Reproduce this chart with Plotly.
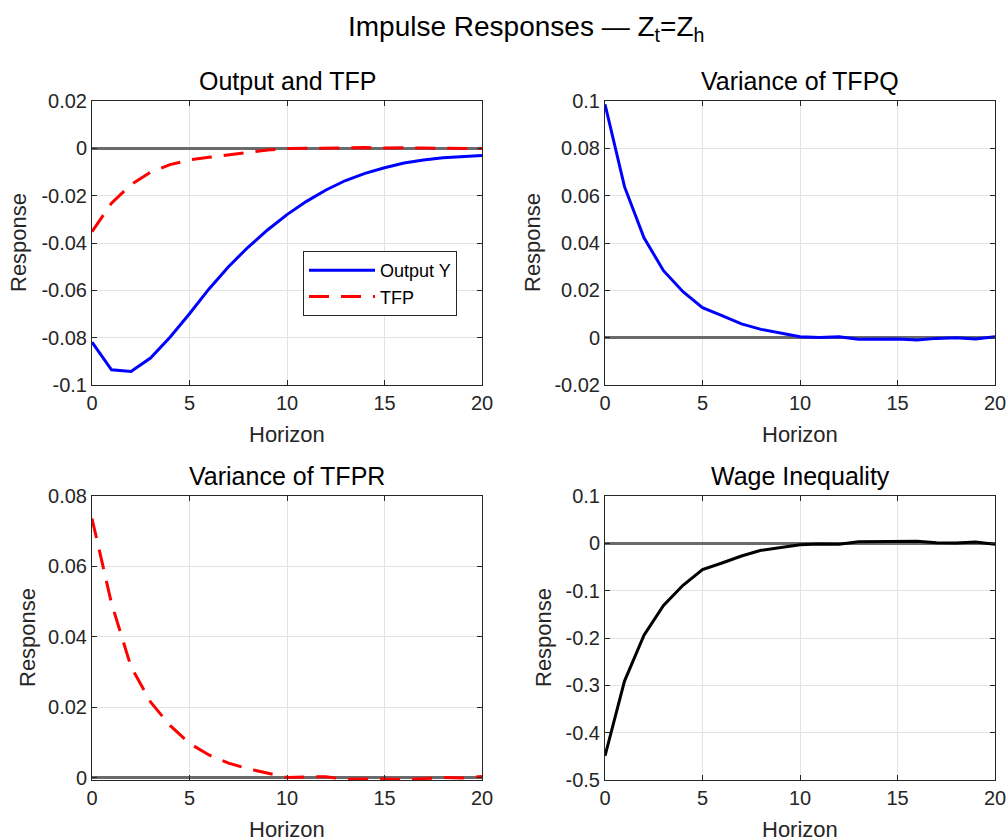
import plotly.graph_objects as go

# horizon 0..20
horizon = list(range(21))

output_y = [-0.0819, -0.0936, -0.0943, -0.0886, -0.0798, -0.0699, -0.0594, -0.0500, -0.0418, -0.0345,
            -0.0280, -0.0224, -0.0176, -0.0136, -0.0106, -0.0082, -0.0062, -0.0049, -0.0040, -0.0034, -0.0030]
tfp = [-0.0352, -0.0232, -0.0153, -0.0101, -0.0069, -0.0049, -0.0038, -0.0027, -0.0015, -0.0007,
       -0.0001, 0.0000, 0.0001, 0.0003, 0.0003, 0.0001, 0.0003, 0.0001, 0.0000, 0.0000, -0.0001]
var_tfpq = [0.0986, 0.0638, 0.0422, 0.0283, 0.0194, 0.0127, 0.0093, 0.0058, 0.0035, 0.0018,
            0.0004, 0.0001, 0.0004, -0.0007, -0.0007, -0.0006, -0.0010, -0.0003, 0.0000, -0.0006, 0.0004]
var_tfpr = [0.0736, 0.0495, 0.0315, 0.0215, 0.0148, 0.0097, 0.0064, 0.0041, 0.0025, 0.0012,
            0.0000, 0.0002, 0.0002, -0.0005, -0.0004, -0.0004, -0.0006, -0.0002, 0.0000, -0.0001, 0.0003]
wage_ineq = [-0.449, -0.291, -0.194, -0.131, -0.0886, -0.0556, -0.0415, -0.0267, -0.0148, -0.0091,
             -0.0028, -0.0014, -0.0020, 0.0035, 0.0035, 0.0030, 0.0042, 0.0014, 0.0007, 0.0030, -0.0020]

x_ticks = [0, 5, 10, 15, 20]
y1_ticks = [-0.1, -0.08, -0.06, -0.04, -0.02, 0, 0.02]
y1_labels = ["-0.1", "-0.08", "-0.06", "-0.04", "-0.02", "0", "0.02"]
y2_ticks = [-0.02, 0, 0.02, 0.04, 0.06, 0.08, 0.1]
y2_labels = ["-0.02", "0", "0.02", "0.04", "0.06", "0.08", "0.1"]
y3_ticks = [0, 0.02, 0.04, 0.06, 0.08]
y3_labels = ["0", "0.02", "0.04", "0.06", "0.08"]
y4_ticks = [-0.5, -0.4, -0.3, -0.2, -0.1, 0, 0.1]
y4_labels = ["-0.5", "-0.4", "-0.3", "-0.2", "-0.1", "0", "0.1"]

titles = ["Output and TFP", "Variance of TFPQ", "Variance of TFPR", "Wage Inequality"]

W, H = 1008, 838
FONT = "Liberation Sans, Arial, sans-serif"

def px(x, y):
    # pixels -> paper coords
    return x / W, 1 - y / H

# plot boxes in pixels: (left, right, top, bottom)
boxes = [(92, 482, 101, 385), (605, 995, 101, 385), (92, 482, 496, 780), (605, 995, 496, 780)]

fig = go.Figure()

fig.add_trace(go.Scatter(x=horizon, y=output_y, name="Output Y", mode="lines",
                         line=dict(color="#0000ff", width=3), xaxis="x", yaxis="y"))
fig.add_trace(go.Scatter(x=horizon, y=tfp, name="TFP", mode="lines",
                         line=dict(color="#ff0000", width=3, dash="20px,12px"), xaxis="x", yaxis="y"))
fig.add_trace(go.Scatter(x=horizon, y=var_tfpq, mode="lines", showlegend=False,
                         line=dict(color="#0000ff", width=3), xaxis="x2", yaxis="y2"))
fig.add_trace(go.Scatter(x=horizon, y=var_tfpr, mode="lines", showlegend=False,
                         line=dict(color="#ff0000", width=3, dash="20px,12px"), xaxis="x3", yaxis="y3"))
fig.add_trace(go.Scatter(x=horizon, y=wage_ineq, mode="lines", showlegend=False,
                         line=dict(color="#000000", width=3), xaxis="x4", yaxis="y4"))

yspecs = [([-0.1, 0.02], y1_ticks, y1_labels), ([-0.02, 0.1], y2_ticks, y2_labels),
          ([-0.0007, 0.08], y3_ticks, y3_labels), ([-0.5, 0.1], y4_ticks, y4_labels)]

axis_common = dict(showline=True, linecolor="#262626", linewidth=1, mirror="ticks",
                   ticks="inside", ticklen=5, tickcolor="#262626", automargin=False,
                   showgrid=True, gridcolor="#e3e3e3", gridwidth=1,
                   tickfont=dict(family=FONT, size=20, color="#262626"))

layout = {}
annotations = []
for i, (l, r, t, b) in enumerate(boxes):
    sfx = "" if i == 0 else str(i + 1)
    x0, _ = px(l, 0)
    x1, _ = px(r, 0)
    _, y1 = px(0, t)
    _, y0 = px(0, b)
    rng, tv, tt = yspecs[i]
    layout["xaxis" + sfx] = dict(domain=[x0, x1], range=[0, 20], tickvals=x_ticks,
                                 anchor="y" + sfx, zeroline=False, **axis_common)
    layout["yaxis" + sfx] = dict(domain=[y0, y1], range=rng, tickvals=tv, ticktext=tt,
                                 anchor="x" + sfx, zeroline=True, zerolinecolor="#6a6a6a",
                                 zerolinewidth=2.5, **axis_common)
    cx = (l + r) / 2
    ax, ay = px(cx, t - 4)
    annotations.append(dict(text=titles[i], x=ax, y=ay, xref="paper", yref="paper",
                            xanchor="center", yanchor="bottom", showarrow=False,
                            font=dict(family=FONT, size=25, color="#000000")))
    hx, hy = px(cx, b + 49)
    annotations.append(dict(text="Horizon", x=hx, y=hy, xref="paper", yref="paper",
                            xanchor="center", yanchor="middle", showarrow=False,
                            font=dict(family=FONT, size=22, color="#262626")))
    rx_pos = [18, 532, 27, 543][i]
    rx, ry = px(rx_pos, (t + b) / 2)
    annotations.append(dict(text="Response", x=rx, y=ry, xref="paper", yref="paper",
                            xanchor="center", yanchor="middle", textangle=-90, showarrow=False,
                            font=dict(family=FONT, size=22, color="#262626")))

sx, sy = px(526, 28)
annotations.append(dict(text="Impulse Responses — Z<sub>t</sub>=Z<sub>h</sub>", x=sx, y=sy,
                        xref="paper", yref="paper", xanchor="center", yanchor="middle",
                        showarrow=False, font=dict(family=FONT, size=28, color="#000000")))

lx, ly = px(303, 251)
fig.update_layout(
    width=W, height=H,
    margin=dict(l=0, r=0, t=0, b=0),
    paper_bgcolor="white", plot_bgcolor="white",
    annotations=annotations,
    showlegend=True,
    legend=dict(x=lx, y=ly, xanchor="left", yanchor="top", bgcolor="white",
                bordercolor="#262626", borderwidth=1, itemwidth=66, tracegroupgap=0,
                font=dict(family=FONT, size=18, color="#000000")),
    **layout
)

# drop the default body margin so the figure fills the window exactly
fig.write_html("out.html", config={"displayModeBar": False},
               post_script="document.body.style.margin='0';")
